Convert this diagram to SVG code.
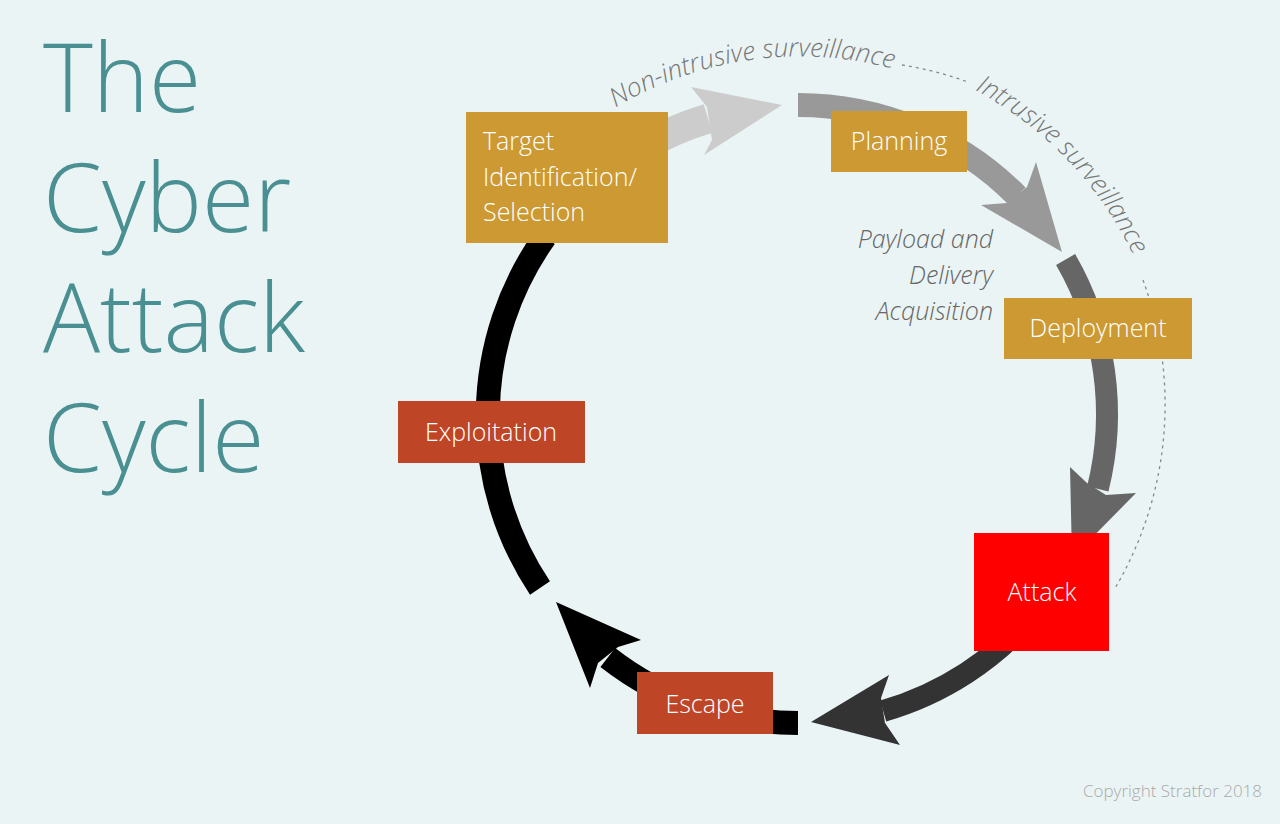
<svg xmlns="http://www.w3.org/2000/svg" width="1280" height="824" viewBox="0 0 1280 824">
<style>
.title{font-family:"Open Sans","DejaVu Sans",sans-serif;font-weight:300;font-size:95px;fill:#4a8f91}
.lbl{font-family:"Open Sans","DejaVu Sans",sans-serif;font-weight:300;font-size:25px;fill:#fff}
.it{font-family:"Open Sans","DejaVu Sans",sans-serif;font-weight:300;font-style:italic;font-size:25px;fill:#666}
.sv{font-family:"Open Sans","DejaVu Sans",sans-serif;font-weight:300;font-style:italic;font-size:26px;fill:#777}
.arc{fill:none}
</style>
<defs>
<path id="p1" d="M 615.6 107.6 A 358 358 0 0 1 896 69.6"/>
<path id="p2" d="M 975 90 A 368 368 0 0 1 1140 270"/>
</defs>
<rect width="1280" height="824" fill="#eaf4f4"/>
<g id="title">
<text class="title" x="43" y="112">The</text>
<text class="title" x="43" y="232">Cyber</text>
<text class="title" x="43" y="352">Attack</text>
<text class="title" x="43" y="472">Cycle</text>
</g>
<g id="connectors">
<path class="arc" d="M 902 65 A 362 362 0 0 1 968 82" stroke="#888" stroke-width="1.3" stroke-dasharray="3 4"/>
<path class="arc" d="M 1143 280 A 362 362 0 0 1 1114 590" stroke="#888" stroke-width="1.3" stroke-dasharray="3 4"/>
<path class="arc" d="M 579.5 195.5 A 309 309 0 0 1 708 118.5" stroke="#cccccc" stroke-width="30"/>
<polygon points="691,87 782,105 704,155 712,140 707,107" fill="#cccccc"/>
<path class="arc" d="M 798 105 A 309 309 0 0 1 1017 196" stroke="#999999" stroke-width="24"/>
<polygon points="1036,162 1062,252 981,205 1007,203 1027,187" fill="#999999"/>
<path class="arc" d="M 1065.6 259.5 A 309 309 0 0 1 1097.8 488.8" stroke="#666666" stroke-width="22"/>
<polygon points="1070,467 1087,483 1106,495 1136,493 1072,558" fill="#666666"/>
<path class="arc" d="M 1034.7 612.6 A 309 309 0 0 1 883.2 711" stroke="#333333" stroke-width="22"/>
<polygon points="889,675 881,698 885,723 900,745 811,722" fill="#333333"/>
<path class="arc" d="M 798 723 A 309 309 0 0 1 607.8 657.5" stroke="#000" stroke-width="24"/>
<polygon points="641,640 618,647 598,663 590,688 556,602" fill="#000"/>
<path class="arc" d="M 540 588 A 309 309 0 0 1 545 237" stroke="#000" stroke-width="24"/>
</g>
<g id="surveillance">
<text class="sv"><textPath href="#p1">Non-intrusive surveillance</textPath></text>
<text class="sv"><textPath href="#p2">Intrusive surveillance</textPath></text>
</g>
<g id="payload">
<text class="it" text-anchor="end" x="993" y="248">Payload and</text>
<text class="it" text-anchor="end" x="993" y="284">Delivery</text>
<text class="it" text-anchor="end" x="993" y="320">Acquisition</text>
</g>
<g id="target"><rect x="466" y="112" width="202" height="131" fill="#cc9933"/>
<text class="lbl" x="483" y="150">Target</text><text class="lbl" x="483" y="186">Identification/</text><text class="lbl" x="483" y="221">Selection</text></g>
<g id="planning"><rect x="831" y="111" width="136" height="61" fill="#cc9933"/>
<text class="lbl" x="899" y="150" text-anchor="middle">Planning</text></g>
<g id="deployment"><rect x="1004" y="298" width="188" height="61" fill="#cc9933"/>
<text class="lbl" x="1098" y="337" text-anchor="middle">Deployment</text></g>
<g id="attack"><rect x="974" y="533" width="135" height="118" fill="#ff0000"/>
<text class="lbl" x="1042" y="601" text-anchor="middle">Attack</text></g>
<g id="escape"><rect x="637" y="672" width="136" height="62" fill="#bf4527"/>
<text class="lbl" x="705" y="713" text-anchor="middle">Escape</text></g>
<g id="exploitation"><rect x="398" y="401" width="187" height="62" fill="#bf4527"/>
<text class="lbl" x="491" y="441" text-anchor="middle">Exploitation</text></g>
<text x="1262" y="797" text-anchor="end" font-family="Open Sans, DejaVu Sans, sans-serif" font-weight="300" font-size="17" fill="#aaaaaa">Copyright Stratfor 2018</text>
</svg>
